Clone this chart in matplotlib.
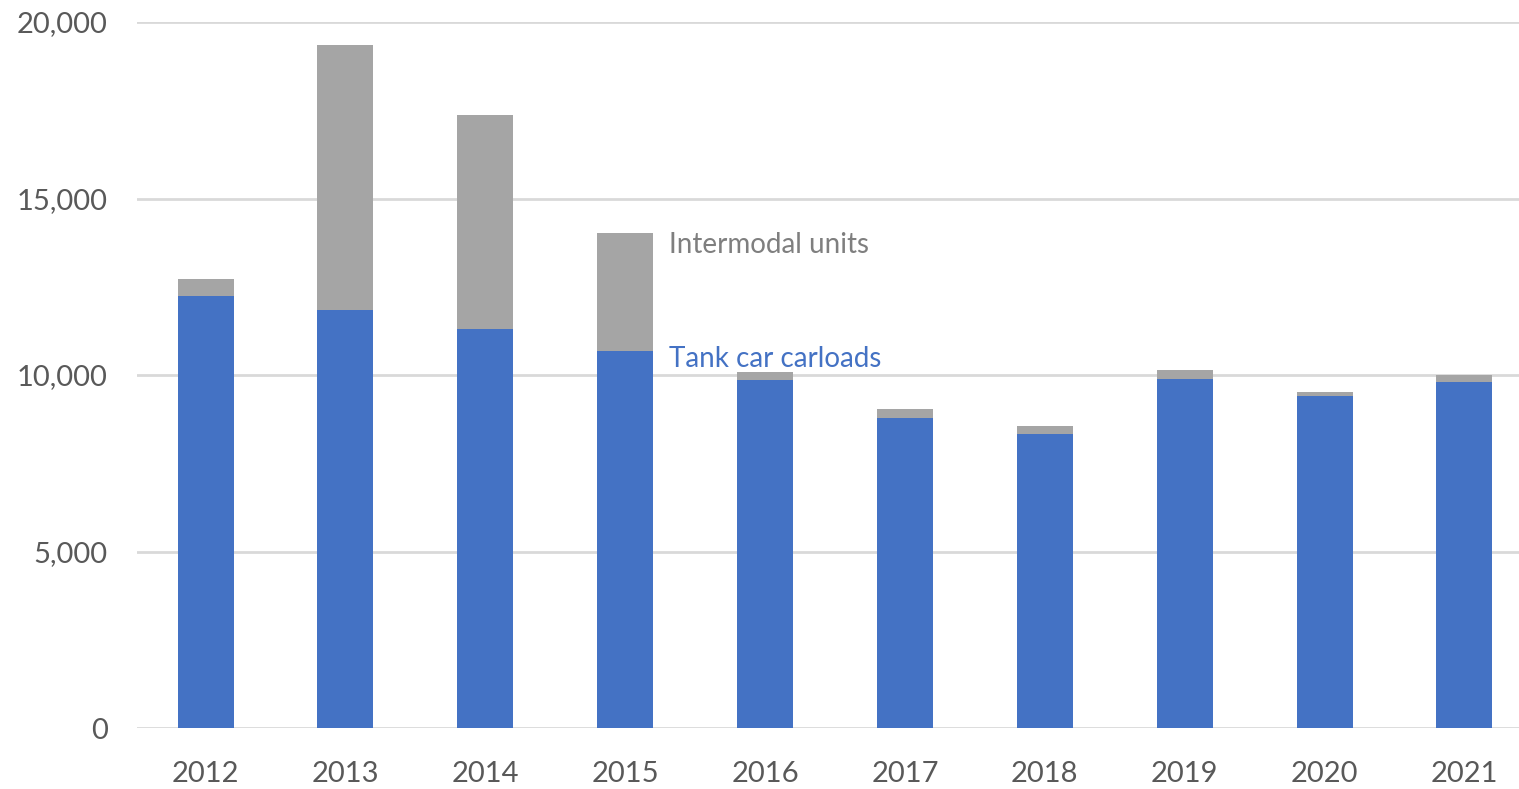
import numpy as np
from matplotlib import pyplot as plt
from matplotlib.ticker import FuncFormatter

years = ['2012', '2013', '2014', '2015', '2016', '2017', '2018', '2019', '2020', '2021']
tank_car = [12240, 11830, 11300, 10670, 9850, 8770, 8320, 9900, 9400, 9800]
intermodal = [480, 7520, 6070, 3350, 230, 270, 230, 230, 125, 190]

blue = '#4472C4'
grey = '#A5A5A5'
txt = '#595959'

plt.rcParams['font.family'] = ['Lato', 'DejaVu Sans']

fig = plt.figure(figsize=(15.19, 7.89), dpi=100)
ax = fig.add_axes([0.0902, 0.0773, 0.9098, 0.8948])

x = np.arange(len(years))
ax.bar(x, tank_car, width=0.4, color=blue, zorder=3)
ax.bar(x, intermodal, width=0.4, bottom=tank_car, color=grey, zorder=3)

ax.set_ylim(0, 20000)
ax.set_xlim(-0.49, 9.39)
ax.set_yticks([0, 5000, 10000, 15000, 20000])
ax.yaxis.set_major_formatter(FuncFormatter(lambda v, p: f'{int(v):,}'))
ax.set_xticks(x)
ax.set_xticklabels(years)

ax.grid(axis='y', color='#D9D9D9', linewidth=2, zorder=0)
for s in ax.spines.values():
    s.set_visible(False)
ax.tick_params(axis='both', length=0, labelsize=21, colors=txt)
ax.tick_params(axis='y', pad=21)
ax.tick_params(axis='x', pad=24)

# series labels next to the 2015 bar
ax.text(3.31, tank_car[3] + intermodal[3] - 350, 'Intermodal units', color='#7F7F7F',
        fontsize=20, va='center', ha='left')
ax.text(3.31, tank_car[3] - 230, 'Tank car carloads', color=blue,
        fontsize=20, va='center', ha='left')

fig.savefig('out.png', dpi=100)
